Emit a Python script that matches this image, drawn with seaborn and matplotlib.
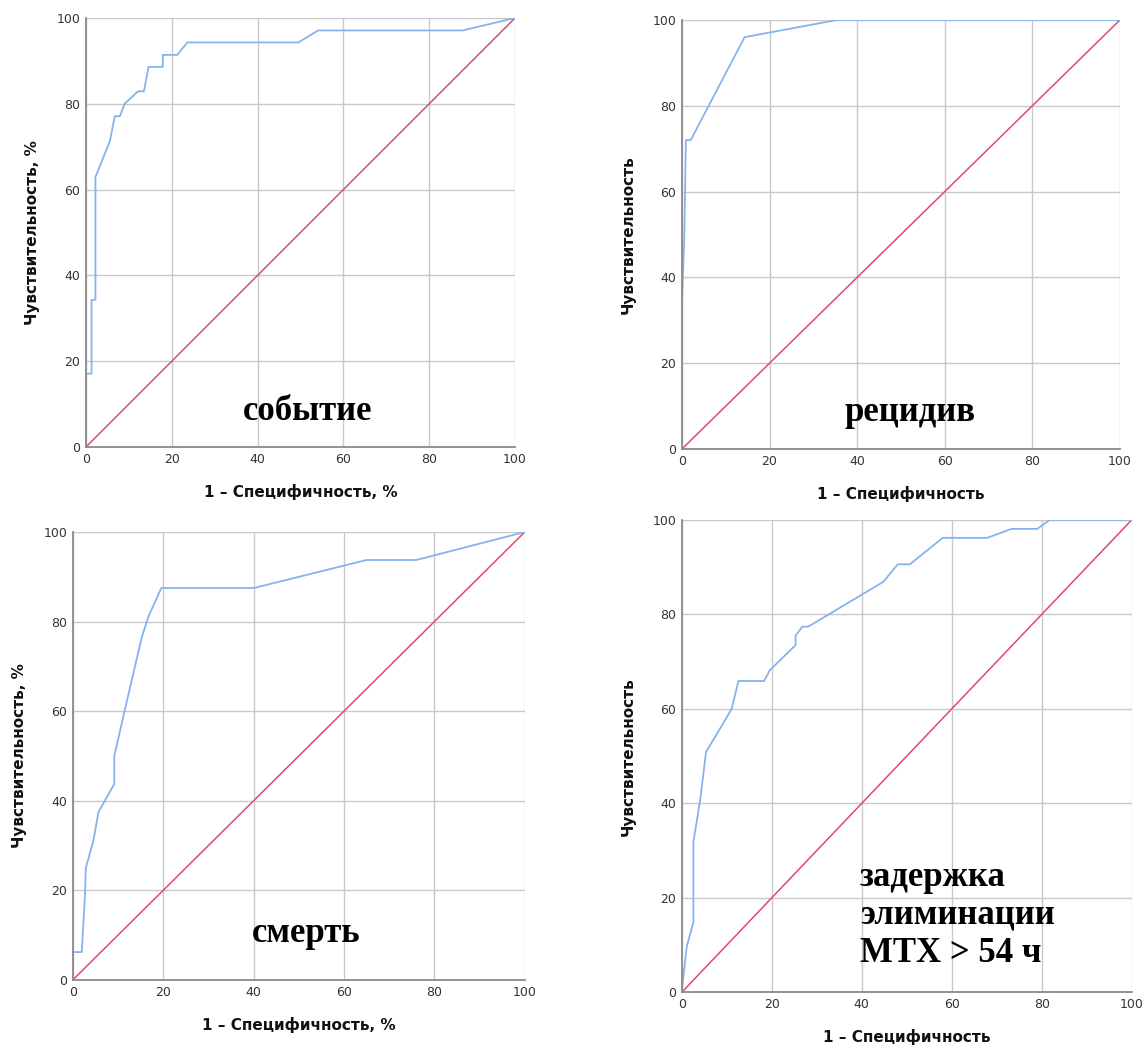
import pandas as pd
import matplotlib
matplotlib.use("Agg")
import matplotlib.pyplot as plt
import seaborn as sns

# ROC curves (1 - specificity, sensitivity), in %
event_fpr = [0, 0, 1.3, 1.3, 2.2, 2.2, 5.6, 6.7, 7.9, 9.0, 12.1, 13.5, 14.6, 17.9, 17.9, 21.3, 23.6, 49.5, 54.1, 87.8, 100]
event_tpr = [0, 17.1, 17.1, 34.3, 34.3, 62.9, 71.4, 77.1, 77.1, 80.0, 82.9, 82.9, 88.6, 88.6, 91.4, 91.4, 94.3, 94.3, 97.1, 97.1, 100]

relapse_fpr = [0, 0, 0.5, 0.9, 2.0, 14.3, 35.4, 100]
relapse_tpr = [0, 34, 48, 72, 72, 96, 100, 100]

death_fpr = [0, 0, 2.0, 2.7, 2.9, 4.6, 5.7, 9.2, 9.2, 11.6, 15.3, 16.8, 19.6, 40.1, 65.0, 76.0, 100]
death_tpr = [0, 6.25, 6.25, 18.75, 25.0, 31.25, 37.5, 43.75, 50.0, 60.6, 76.6, 81.25, 87.5, 87.5, 93.75, 93.75, 100]

delay_fpr = [0, 1.1, 2.6, 2.6, 4.1, 5.4, 7.0, 11.1, 12.6, 18.3, 19.6, 25.3, 25.3, 26.8, 28.1, 44.8, 48.0, 50.7, 58.0, 67.9, 73.3, 79.0, 81.8, 100]
delay_tpr = [0, 9.6, 14.9, 31.9, 40.7, 50.9, 53.4, 60.0, 65.9, 65.9, 68.2, 73.5, 75.5, 77.4, 77.4, 86.9, 90.6, 90.6, 96.2, 96.2, 98.1, 98.1, 100, 100]

ref_line = [0, 100]
ticks = [0, 20, 40, 60, 80, 100]

panels = [
    # rect, x label, y label, curve, note, note position, y label pad
    ([0.0751, 0.5751, 0.3747, 0.4078], '1 – Специфичность, %', 'Чувствительность, %',
     event_fpr, event_tpr, 'событие', (51.7, 8.2), 12),
    ([0.5956, 0.5732, 0.3825, 0.4078], '1 – Специфичность', 'Чувствительность',
     relapse_fpr, relapse_tpr, 'рецидив', (52.0, 8.4), 12),
    ([0.0635, 0.0684, 0.3948, 0.4259], '1 – Специфичность, %', 'Чувствительность, %',
     death_fpr, death_tpr, 'смерть', (51.6, 10.3), 12),
    ([0.5954, 0.0567, 0.3930, 0.4491], '1 – Специфичность', 'Чувствительность',
     delay_fpr, delay_tpr, 'задержка\nэлиминации\nMTX > 54 ч', (39.6, 16.3), 12),
]

sns.set_theme(style="white")
plt.rcParams['font.family'] = ['DejaVu Sans']

blue = '#86b3ee'
red = '#e2486e'

fig = plt.figure(figsize=(11.45, 10.52), dpi=100)

for rect, xlab, ylab, fpr, tpr, note, pos, ypad in panels:
    ax = fig.add_axes(rect)
    curve = pd.DataFrame({'fpr': fpr, 'tpr': tpr})
    diag = pd.DataFrame({'fpr': ref_line, 'tpr': ref_line})
    sns.lineplot(data=diag, x='fpr', y='tpr', sort=False, estimator=None,
                 color=red, linewidth=1.1, ax=ax)
    sns.lineplot(data=curve, x='fpr', y='tpr', sort=False, estimator=None,
                 color=blue, linewidth=1.3, ax=ax)
    ax.set_xlim(0, 100)
    ax.set_ylim(0, 100)
    ax.set_xticks(ticks)
    ax.set_yticks(ticks)
    ax.grid(True, color='#c9c9c9', linewidth=1.0)
    ax.set_axisbelow(True)
    ax.spines['top'].set_visible(False)
    ax.spines['right'].set_visible(False)
    for s in ['left', 'bottom']:
        ax.spines[s].set_color('#8a8a8a')
        ax.spines[s].set_linewidth(1.3)
    ax.tick_params(axis='both', length=0, pad=4, labelsize=9, labelcolor='#333333')
    ax.set_xlabel(xlab, fontsize=11, fontweight='bold', labelpad=13, color='#111111')
    ax.set_ylabel(ylab, fontsize=11, fontweight='bold', labelpad=ypad, color='#111111')
    if '\n' in note:
        ax.text(pos[0], pos[1], note, ha='left', va='center', fontsize=25, color='black',
                fontweight='bold', family='Liberation Serif', linespacing=1.2)
    else:
        ax.text(pos[0], pos[1], note, ha='center', va='center', fontsize=25, color='black',
                fontweight='bold', family='Liberation Serif')

fig.savefig('out.png', dpi=100)
